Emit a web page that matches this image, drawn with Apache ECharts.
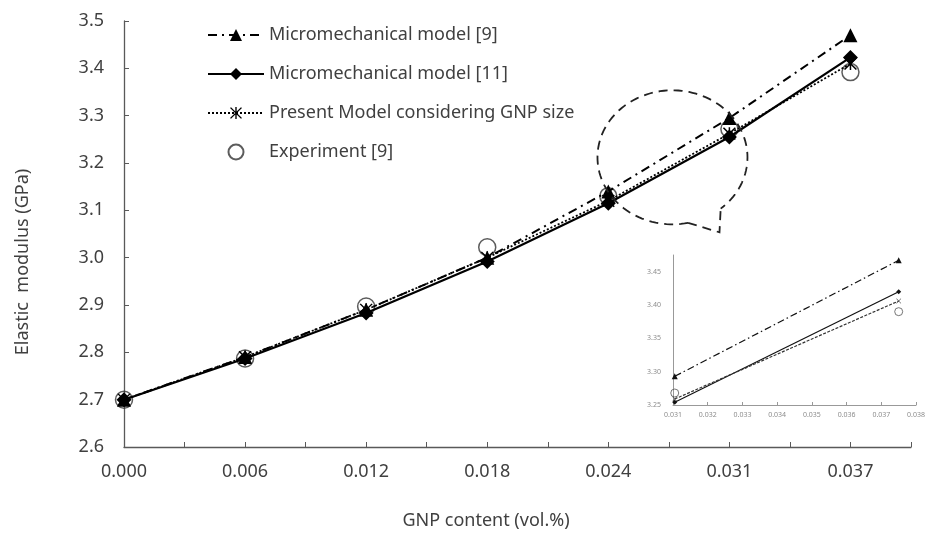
<!DOCTYPE html>
<html>
<head>
<meta charset="utf-8">
<script src="https://cdn.jsdelivr.net/npm/echarts@6/dist/echarts.min.js"></script>
<style>
  html, body { margin: 0; padding: 0; background: #fff; }
  #chart { width: 928px; height: 536px; }
</style>
</head>
<body>
<div id="chart"></div>
<script>
// main chart data (x = category index)
const xLabels = ['0.000', '0.006', '0.012', '0.018', '0.024', '0.031', '0.037']
const model9 = [2.70, 2.79, 2.89, 3.00, 3.14, 3.295, 3.47]
const model11 = [2.70, 2.787, 2.883, 2.992, 3.115, 3.255, 3.423]
const presentModel = [2.70, 2.79, 2.89, 3.00, 3.12, 3.262, 3.41]
const experiment = [2.70, 2.787, 2.897, 3.022, 3.13, 3.272, 3.392]

// inset (zoom of the last two points)
const insetX = [0.03105, 0.0375]
const insetModel9 = [3.293, 3.467]
const insetModel11 = [3.254, 3.42]
const insetPresent = [3.259, 3.406]
const insetExperiment = [3.268, 3.39]

const names = ['Micromechanical model [9]', 'Micromechanical model [11]',
  'Present Model considering GNP size', 'Experiment [9]']

const font = '"Noto Sans", "Open Sans", sans-serif'
const asterisk = 'path://M-1,-10L1,-10L1,10L-1,10Z M-7.25,-9.66L8.75,8.34L7.25,9.66L-8.75,-8.34Z M8.75,-8.34L-7.25,9.66L-8.75,8.34L7.25,-9.66Z'
const cross = 'path://M-7.25,-9.66L8.75,8.34L7.25,9.66L-8.75,-8.34Z M8.75,-8.34L-7.25,9.66L-8.75,8.34L7.25,-9.66Z'

const pairs = (xs, ys) => ys.map((v, i) => [xs[i], v])
const idx = xLabels.map((_, i) => i)

const chart = echarts.init(document.getElementById('chart'))

const option = {
  animation: false,
  textStyle: { fontFamily: font },
  legend: {
    data: names,
    orient: 'vertical',
    left: 207,
    top: 25,
    padding: 0,
    itemWidth: 56,
    itemHeight: 15,
    itemGap: 19,
    textStyle: { fontSize: 18, color: '#404040', fontFamily: font, lineHeight: 20 }
  },
  grid: [
    { left: 124, right: 17, top: 21, bottom: 89 },
    { left: 673, right: 7, top: 255, bottom: 131 }
  ],
  xAxis: [
    {
      type: 'value',
      gridIndex: 0,
      min: 0,
      max: 6.5,
      interval: 0.5,
      axisLine: { lineStyle: { color: '#595959', width: 1.3 } },
      axisTick: { inside: true, length: 5, lineStyle: { color: '#595959' } },
      splitLine: { show: false },
      axisLabel: {
        fontSize: 18,
        color: '#404040',
        margin: 16,
        formatter: v => Number.isInteger(v) ? xLabels[v] : ''
      }
    },
    {
      type: 'value',
      gridIndex: 1,
      min: 0.031,
      max: 0.038,
      interval: 0.001,
      axisLine: { lineStyle: { color: '#999', width: 1 } },
      axisTick: { inside: true, length: 3, lineStyle: { color: '#999' } },
      splitLine: { show: false },
      axisLabel: { fontSize: 7, color: '#8c8c8c', margin: 6, formatter: v => v.toFixed(3) }
    }
  ],
  yAxis: [
    {
      type: 'value',
      gridIndex: 0,
      min: 2.6,
      max: 3.5,
      interval: 0.1,
      axisLine: { show: true, lineStyle: { color: '#595959', width: 1.3 } },
      axisTick: { show: true, inside: true, length: 5, lineStyle: { color: '#595959' } },
      splitLine: { show: false },
      axisLabel: { fontSize: 18, color: '#404040', margin: 20, formatter: v => v.toFixed(1) }
    },
    {
      type: 'value',
      gridIndex: 1,
      min: 3.25,
      max: 3.475,
      interval: 0.05,
      axisLine: { show: true, lineStyle: { color: '#999', width: 1 } },
      axisTick: { show: false },
      splitLine: { show: false },
      axisLabel: { fontSize: 7, color: '#8c8c8c', margin: 12, showMaxLabel: false, formatter: v => v.toFixed(2) }
    }
  ],
  series: [
    {
      name: names[0], type: 'line', data: pairs(idx, model9),
      symbol: 'triangle', symbolSize: 14,
      itemStyle: { color: '#000' },
      lineStyle: { color: '#000', width: 2, type: [9, 5, 2, 5] }
    },
    {
      name: names[1], type: 'line', data: pairs(idx, model11),
      symbol: 'diamond', symbolSize: 15,
      itemStyle: { color: '#000' },
      lineStyle: { color: '#000', width: 2.2 }
    },
    {
      name: names[2], type: 'line', data: pairs(idx, presentModel),
      symbol: asterisk, symbolSize: 13,
      itemStyle: { color: '#000' },
      lineStyle: { color: '#000', width: 1.8, type: [2, 2] }
    },
    {
      name: names[3], type: 'scatter', data: pairs(idx, experiment),
      symbol: 'circle', symbolSize: 17,
      itemStyle: { color: 'rgba(255,255,255,0)', borderColor: '#333', borderWidth: 1.5 }
    },
    // inset series
    {
      name: 'inset9', type: 'line', xAxisIndex: 1, yAxisIndex: 1,
      data: pairs(insetX, insetModel9), symbol: 'triangle', symbolSize: 6,
      itemStyle: { color: '#111' }, lineStyle: { color: '#111', width: 1.2, type: [7, 3, 1.5, 3] }
    },
    {
      name: 'inset11', type: 'line', xAxisIndex: 1, yAxisIndex: 1,
      data: pairs(insetX, insetModel11), symbol: 'diamond', symbolSize: 5,
      itemStyle: { color: '#111' }, lineStyle: { color: '#111', width: 1.2 }
    },
    {
      name: 'insetPresent', type: 'line', xAxisIndex: 1, yAxisIndex: 1,
      data: pairs(insetX, insetPresent), symbol: cross, symbolSize: 5,
      itemStyle: { color: '#333' }, lineStyle: { color: '#333', width: 1.2, type: [3, 1.5] }
    },
    {
      name: 'insetExp', type: 'scatter', xAxisIndex: 1, yAxisIndex: 1,
      data: pairs(insetX, insetExperiment), symbol: 'circle', symbolSize: 8,
      itemStyle: { color: 'rgba(255,255,255,0)', borderColor: '#555', borderWidth: 1 }
    }
  ]
}

chart.setOption(option)

// callout bubble (dashed ellipse with a tail) around the 0.024-0.031 points
const c = chart.convertToPixel({ gridIndex: 0 }, [4.53, 3.212])
const rx = 75, ry = 67
const a0 = 78 * Math.PI / 180, a1 = (50 + 360) * Math.PI / 180
const ellipsePts = []
for (let i = 0; i <= 120; i++) {
  const a = a0 + (a1 - a0) * i / 120
  ellipsePts.push([c[0] + rx * Math.cos(a), c[1] + ry * Math.sin(a)])
}
const start = ellipsePts[0], end = ellipsePts[ellipsePts.length - 1]
const tip = [c[0] + 47, c[1] + 75]

chart.setOption({
  graphic: [
    {
      type: 'polyline', shape: { points: ellipsePts }, z: 10,
      style: { stroke: '#222', lineWidth: 1.8, lineDash: [9, 6], fill: null }
    },
    {
      type: 'polyline', shape: { points: [start, tip, end] }, z: 10,
      style: { stroke: '#222', lineWidth: 1.8, lineDash: [9, 6], fill: null }
    },
    {
      type: 'text', x: 23, y: 262, rotation: Math.PI / 2,
      style: {
        text: 'Elastic  modulus (GPa)', fontSize: 18, fontFamily: font, fill: '#404040',
        align: 'center', verticalAlign: 'middle', textAlign: 'center', textVerticalAlign: 'middle'
      }
    },
    {
      type: 'text', x: 486, y: 521,
      style: {
        text: 'GNP content (vol.%)', fontSize: 18, fontFamily: font, fill: '#404040',
        align: 'center', verticalAlign: 'middle', textAlign: 'center', textVerticalAlign: 'middle'
      }
    }
  ]
})
</script>
</body>
</html>
